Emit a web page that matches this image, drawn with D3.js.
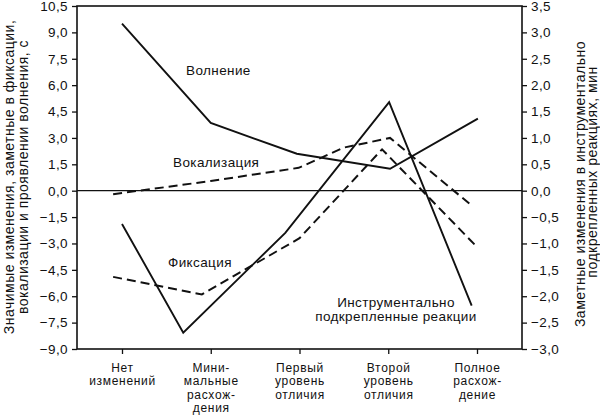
<!DOCTYPE html>
<html><head><meta charset="utf-8">
<script src="https://cdn.jsdelivr.net/npm/d3@7/dist/d3.min.js"></script>
<style>
html,body{margin:0;padding:0;background:#fff;}
svg{display:block;}
text{font-family:"Liberation Sans",Arial,sans-serif;fill:#111;}
</style></head>
<body><svg id="c" width="600" height="416"></svg>
<script>
// ---- data ----
const categories = [["Нет","изменений"],["Мини-","мальные","расхож-","дения"],["Первый","уровень","отличия"],["Второй","уровень","отличия"],["Полное","расхож-","дение"]];
const leftTicks = [10.5,9,7.5,6,4.5,3,1.5,0,-1.5,-3,-4.5,-6,-7.5,-9];
const rightTicks = [3.5,3,2.5,2,1.5,1,0.5,0,-0.5,-1,-1.5,-2,-2.5,-3];
// series: x in category units, y values
const excitementX = [0, 1, 1.97, 3.02, 4.01];
const excitementY = [9.5, 3.85, 2.1, 1.25, 4.1];
const vocalX = [-0.1, 1, 1.99, 2.5, 3.02, 3.93];
const vocalY = [-0.2, 0.55, 1.3, 2.45, 3.0, -0.8];
const fixX = [-0.1, 0.9, 2.0, 2.93, 4.0];
const fixY = [-4.9, -5.9, -2.7, 2.35, -3.2];
const instrX = [0, 0.69, 1.84, 3.01, 3.94];
const instrY = [-0.63, -2.69, -0.8, 1.68, -2.18];

const fs = 13.5, ls = "0.4px";
const svg = d3.select("#c");
const L = 77, R = 522, T = 6, B = 349;
const x = d3.scaleLinear().domain([0,4]).range([122,477]);
const yL = d3.scaleLinear().domain([-9,10.5]).range([B,T]);
const yR = d3.scaleLinear().domain([-3,3.5]).range([B,T]);
const fmt = d => d3.format(".1f")(d).replace(".",",").replace("-","−");

// axes
const gL = svg.append("g").attr("transform",`translate(${L},0)`)
  .call(d3.axisLeft(yL).tickValues(leftTicks).tickFormat(fmt).tickSize(5).tickPadding(4));
const gR = svg.append("g").attr("transform",`translate(${R},0)`)
  .call(d3.axisRight(yR).tickValues(rightTicks).tickFormat(fmt).tickSize(5).tickPadding(4));
const gB = svg.append("g").attr("transform",`translate(0,${B})`)
  .call(d3.axisBottom(x).tickValues([0,1,2,3,4]).tickFormat("").tickSize(5));
[gL,gR,gB].forEach(g=>{
  g.select(".domain").remove();
  g.selectAll(".tick line").attr("stroke","#111").attr("stroke-width",1.3);
  g.selectAll(".tick text").attr("font-size",fs).attr("font-family",null).attr("fill","#111").style("letter-spacing",ls);
});
gB.selectAll(".tick").each(function(d){
  const t = d3.select(this).append("text").attr("text-anchor","middle").attr("font-size",12).attr("fill","#111").style("letter-spacing","0.7px");
  categories[d].forEach((s,i)=>t.append("tspan").attr("x",0).attr("y",22.5+i*13.5).text(s));
});

// frame & zero line
svg.append("rect").attr("x",L).attr("y",T).attr("width",R-L).attr("height",B-T)
  .attr("fill","none").attr("stroke","#111").attr("stroke-width",1.6);
svg.append("line").attr("x1",L).attr("x2",R).attr("y1",yL(0)).attr("y2",yL(0))
  .attr("stroke","#111").attr("stroke-width",1.3);

// lines
function drawLine(xs, ys, ys_scale, dashed){
  const pts = xs.map((v,i)=>[x(v), ys_scale(ys[i])]);
  svg.append("path").attr("d", d3.line()(pts)).attr("fill","none")
    .attr("stroke","#111").attr("stroke-width",dashed?2:1.9)
    .attr("stroke-dasharray",dashed?"9,5":null).attr("stroke-linejoin","miter");
}
drawLine(excitementX, excitementY, yL, false);
drawLine(vocalX, vocalY, yL, true);
drawLine(fixX, fixY, yL, true);
drawLine(instrX, instrY, yR, false);

// series labels
function label(tx, ty, s, anchor){
  svg.append("text").attr("x",tx).attr("y",ty).attr("font-size",fs).style("letter-spacing",ls).attr("text-anchor",anchor||"start").text(s);
}
label(186,75,"Волнение");
label(173,167,"Вокализация");
label(168,267,"Фиксация");
label(396,307,"Инструментально","middle");
label(396,321,"подкрепленные реакции","middle");

// axis titles
const tls = "0.5px";
const lt = svg.append("text").attr("transform","translate(14,177) rotate(-90)").attr("text-anchor","middle").attr("font-size",14).style("letter-spacing",tls);
lt.append("tspan").attr("x",0).attr("y",0).text("Значимые изменения, заметные в фиксации,");
lt.append("tspan").attr("x",0).attr("y",14).text("вокализации и проявлении волнения, с");
const rt = svg.append("text").attr("transform","translate(585,0) rotate(-90)").attr("text-anchor","middle").attr("font-size",14).style("letter-spacing",tls);
rt.append("tspan").attr("x",-184).attr("y",0).text("Заметные изменения в инструментально");
rt.append("tspan").attr("x",-172).attr("y",12).text("подкрепленных реакциях, мин");
</script></body></html>
